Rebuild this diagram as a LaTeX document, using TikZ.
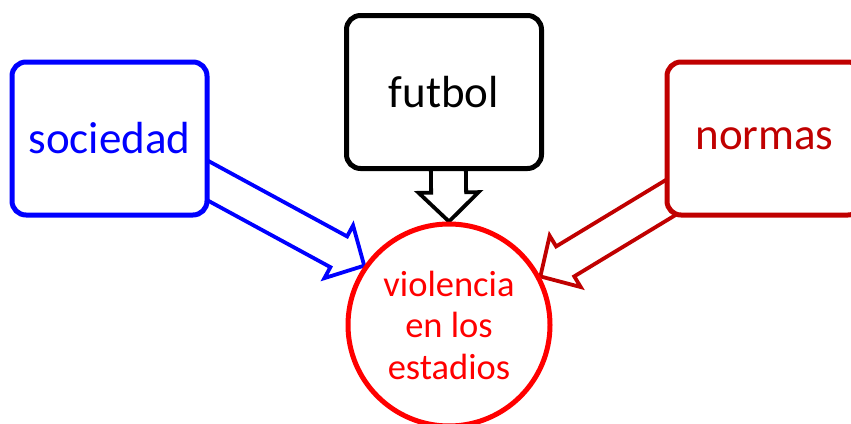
\documentclass[tikz,border=0pt]{standalone}
\usepackage{fontspec}
\setmainfont{Carlito}
\usetikzlibrary{calc, backgrounds}

\definecolor{darkred}{RGB}{192,0,0}

% hollow block arrow from #1 (inside a box) to tip #2
\newcommand{\blockarrow}[3]{%
  \coordinate (neck) at ($(#2)!29pt!(#1)$);
  \draw[#3, line width=3.8pt, line join=miter, fill=white]
    ($(#1)!17.5pt!90:(#2)$) -- ($(neck)!17.5pt!90:(#2)$) -- ($(neck)!30pt!90:(#2)$) -- (#2)
    -- ($(neck)!30pt!-90:(#2)$) -- ($(neck)!17.5pt!-90:(#2)$) -- ($(#1)!17.5pt!-90:(#2)$) -- cycle;
}

\begin{document}
\begin{tikzpicture}[
        x=1pt, y=-1pt,
        topic/.style={rectangle, draw, line width=5pt, rounded corners=14pt, fill=white,
            minimum width=195pt, minimum height=153pt, font=\fontsize{45}{54}\selectfont},
        result/.style={circle, draw=red, line width=5pt, fill=white, text=red, minimum size=202pt,
            inner sep=0pt, align=center, font=\fontsize{36.5}{41.5}\selectfont}
    ]
        \useasboundingbox (0,0) rectangle (851,423);

        % Topics
        \node[topic, draw=blue, text=blue] (soc) at (109.5,138.5) {sociedad};
        \node[topic, draw=black] (fut) at (444,92) {futbol};
        \node[topic, draw=darkred, text=darkred] (norm) at (764.5,138.5) {normas};

        % Result
        \node[result] (circ) at (449,325) {violencia\\en los\\estadios};

        % Arrows
        \coordinate (socS) at (181,166);
        \coordinate (futS) at (448,140);
        \coordinate (normS) at (693,184);
        \begin{scope}[on background layer]
            \blockarrow{socS}{circ.145}{blue}
            \blockarrow{futS}{circ.north}{black}
            \blockarrow{normS}{circ.28.5}{darkred}
        \end{scope}
    \end{tikzpicture}
\end{document}
